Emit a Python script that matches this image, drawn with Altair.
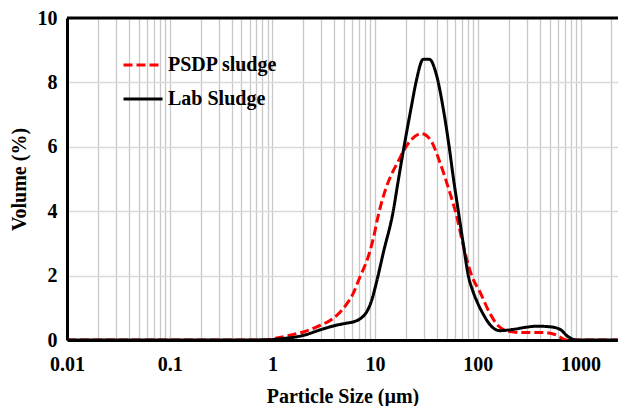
import altair as alt
import pandas as pd

# ---- data ----
series_names = ["PSDP sludge", "Lab Sludge"]

psdp_x = [0.01, 0.5, 0.8, 1.1, 1.48, 2.0, 2.7, 3.9, 4.6, 5.3, 6.1, 7.1, 8.6, 9.6, 10.7,
          12.0, 13.4, 15.0, 16.8, 19.5, 22.5, 28.4, 35.6, 42.9, 51.7, 62.2, 72.3, 87.1,
          105, 129, 157, 206, 277, 434, 586, 733, 1000, 2300]
psdp_y = [0, 0, 0, 0.06, 0.15, 0.25, 0.41, 0.67, 0.88, 1.12, 1.44, 1.95, 2.6, 3.15, 3.85,
          4.45, 4.9, 5.25, 5.55, 5.95, 6.22, 6.41, 6.15, 5.5, 4.72, 3.85, 2.92, 2.0,
          1.49, 0.87, 0.45, 0.26, 0.23, 0.23, 0.15, 0, 0, 0]

lab_x = [0.01, 0.5, 0.95, 1.3, 1.73, 2.2, 2.7, 3.4, 4.2, 5.2, 6.37, 7.3, 8.3, 9.3, 10.0,
         10.6, 12.0, 15.0, 16.8, 19.0, 22.7, 25.0, 29.5, 33.7, 39.8, 46.1, 52.6, 58.0, 64.6,
         72.3, 80.8, 90, 98, 113, 131, 164, 222, 300, 374, 505, 631, 760, 918, 1000, 2300]
lab_y = [0, 0, 0.01, 0.05, 0.1, 0.18, 0.28, 0.38, 0.46, 0.52, 0.58, 0.68, 0.88, 1.25, 1.62,
         1.95, 2.7, 4.0, 4.95, 5.95, 7.3, 8.0, 8.72, 8.72, 8.2, 7.18, 6.0, 5.0, 4.0,
         2.97, 2.0, 1.5, 1.2, 0.8, 0.48, 0.29, 0.33, 0.4, 0.43, 0.41, 0.33, 0.1, 0, 0, 0]

y_ticks = [0, 2, 4, 6, 8, 10]
x_decades = [0.01, 0.1, 1, 10, 100, 1000]
x_tick_labels = ["0.01", "0.1", "1", "10", "100", "1000"]
x_domain = [0.01, 2317]

# ---- build tables ----
rows = []
for name, xs, ys in [(series_names[0], psdp_x, psdp_y), (series_names[1], lab_x, lab_y)]:
    for xv, yv in zip(xs, ys):
        rows.append({"series": name, "size": xv, "volume": yv})
df = pd.DataFrame(rows)
df["order"] = range(len(df))

grid_values = sorted({round(m * 10 ** k, 6) for k in range(-2, 4) for m in range(1, 10)
                      if m * 10 ** k <= x_domain[1]})

label_expr = ""
for v, lab in zip(x_decades, x_tick_labels):
    label_expr += f"abs(datum.value - {v}) < {v}*1e-6 ? '{lab}' : "
label_expr += "''"

FONT = "Liberation Serif"

legend = alt.Legend(
    title=None, orient="none", legendX=55, legendY=26,
    symbolType="stroke", symbolSize=1521, symbolStrokeWidth=3,
    labelFont=FONT, labelFontSize=20, labelFontWeight="bold", labelColor="black",
    labelOffset=4, rowPadding=3,
)

lines = alt.Chart(df).mark_line(strokeWidth=3, interpolate="monotone", clip=True).encode(
    x=alt.X("size:Q",
            scale=alt.Scale(type="log", domain=x_domain, nice=False),
            axis=alt.Axis(values=grid_values, labelExpr=label_expr,
                          title="Particle Size (µm)", ticks=False,
                          gridColor="#c8c8c8", gridWidth=1.3,
                          domainColor="black", domainWidth=3,
                          labelPadding=14, titlePadding=12, labelFlush=False)),
    y=alt.Y("volume:Q",
            scale=alt.Scale(domain=[0, 10], nice=False),
            axis=alt.Axis(values=y_ticks, title="Volume (%)", ticks=False,
                          gridColor="#d9d9d9", gridWidth=1.3,
                          domainColor="black", domainWidth=3,
                          labelPadding=10, titlePadding=8)),
    color=alt.Color("series:N", scale=alt.Scale(domain=series_names, range=["#ff0000", "#000000"]),
                    legend=legend),
    strokeDash=alt.StrokeDash("series:N", scale=alt.Scale(domain=series_names, range=[[9, 4], [1, 0]]),
                              legend=legend),
    order="order:Q",
)

top_border = alt.Chart(pd.DataFrame({"v": [y_ticks[-1]]})).mark_rule(color="black", strokeWidth=3).encode(
    y=alt.Y("v:Q")
)

chart = alt.layer(lines, top_border).properties(
    width=551, height=322,
    padding={"left": 59, "top": 10, "right": 0, "bottom": 66},
    autosize=alt.AutoSizeParams(type="none"),
).configure_view(stroke=None).configure_axis(
    labelFont=FONT, labelFontSize=20, labelFontWeight="bold", labelColor="black",
    titleFont=FONT, titleFontSize=20, titleFontWeight="bold", titleColor="black",
)

chart.save("out.html", embed_options={"renderer": "svg", "actions": False})
